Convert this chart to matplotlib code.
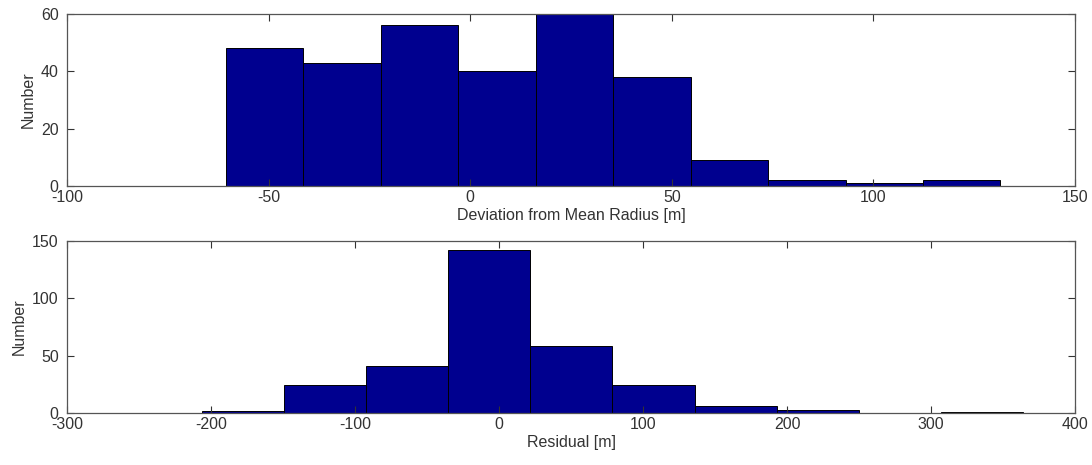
import numpy as np
import matplotlib.pyplot as plt

plt.rcParams['font.family'] = ['Liberation Sans', 'DejaVu Sans']
plt.rcParams['axes.unicode_minus'] = False

# DATA
radius_counts = [48, 43, 56, 40, 60, 38, 9, 2, 1, 2]
radius_range = (-60.6, 131.5)
resid_counts = [2, 24, 41, 142, 58, 24, 6, 3, 0, 1]
resid_range = (-206.5, 364.0)

BAR = '#00008f'

fig = plt.figure(figsize=(10.92, 4.65), dpi=100)
ax1 = fig.add_axes([0.0614, 0.600, 0.9231, 0.370])
ax2 = fig.add_axes([0.0614, 0.1118, 0.9231, 0.370])


def draw_hist(ax, counts, rng):
    edges = np.linspace(rng[0], rng[1], len(counts) + 1)
    w = edges[1] - edges[0]
    ax.bar(edges[:-1], counts, width=w, align='edge',
           color=BAR, edgecolor='black', linewidth=0.7)


draw_hist(ax1, radius_counts, radius_range)
ax1.set_xlim(-100, 150)
ax1.set_ylim(0, 60)
ax1.set_xticks([-100, -50, 0, 50, 100, 150])
ax1.set_yticks([0, 20, 40, 60])
ax1.set_xlabel("Deviation from Mean Radius [m]", fontsize=11.5, labelpad=2)
ax1.set_ylabel("Number", fontsize=11.5)

draw_hist(ax2, resid_counts, resid_range)
ax2.set_xlim(-300, 400)
ax2.set_ylim(0, 150)
ax2.set_xticks([-300, -200, -100, 0, 100, 200, 300, 400])
ax2.set_yticks([0, 50, 100, 150])
ax2.set_xlabel("Residual [m]", fontsize=11.5, labelpad=2)
ax2.set_ylabel("Number", fontsize=11.5)

for ax in (ax1, ax2):
    ax.tick_params(direction='in', length=5, top=True, right=True,
                   labelsize=11.5, colors='#333333')
    ax.tick_params(axis='x', pad=3)
    ax.tick_params(axis='y', pad=6)
    for s in ax.spines.values():
        s.set_color('#555555')
        s.set_linewidth(0.9)
    ax.xaxis.label.set_color('#333333')
    ax.yaxis.label.set_color('#333333')

fig.savefig("out.png", dpi=100)
